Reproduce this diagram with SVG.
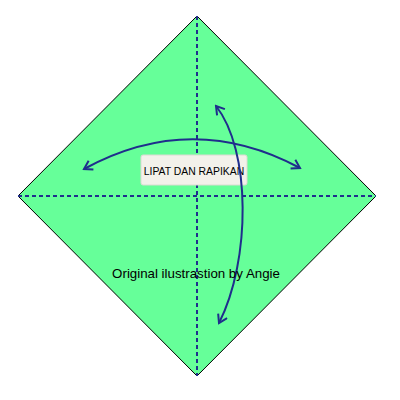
<svg xmlns="http://www.w3.org/2000/svg" width="400" height="400" viewBox="0 0 400 400">
<style>
.fold{stroke:#1f2e8c;stroke-width:2;stroke-dasharray:4 3;fill:none}
.arr{stroke:#1f2e8c;stroke-width:2;fill:none;marker-start:url(#ah);marker-end:url(#ah)}
text{font-family:"Liberation Sans",Arial,sans-serif;fill:#000}
</style>
<defs>
<marker id="ah" viewBox="0 0 12 12" refX="10" refY="6" markerWidth="12" markerHeight="12" markerUnits="userSpaceOnUse" orient="auto-start-reverse">
<path d="M2,1 L10,6 L2,11" fill="none" stroke="#1f2e8c" stroke-width="2"/>
</marker>
</defs>
<rect width="400" height="400" fill="#fff"/>
<g id="paper">
<polygon points="197,16 376,196 197,376 18,196" fill="#66ff99" stroke="#000" stroke-width="1"/>
</g>
<g id="folds">
<line class="fold" x1="197" y1="16" x2="197" y2="376"/>
<line class="fold" x1="18" y1="196" x2="376" y2="196"/>
</g>
<g id="label">
<rect x="141" y="155" width="106" height="30" rx="2" fill="#f3f1ea" stroke="#dcdad2" stroke-width="1"/>
<text x="194" y="174.5" font-size="10.4" text-anchor="middle">LIPAT DAN RAPIKAN</text>
</g>
<g id="connectors">
<path class="arr" d="M84,169 Q192,110 300,168"/>
<path class="arr" d="M216,106 C251,150 251,260 219,323"/>
</g>
<g id="credit">
<text x="196" y="278" font-size="13.3" text-anchor="middle">Original ilustrastion by Angie</text>
</g>
</svg>
